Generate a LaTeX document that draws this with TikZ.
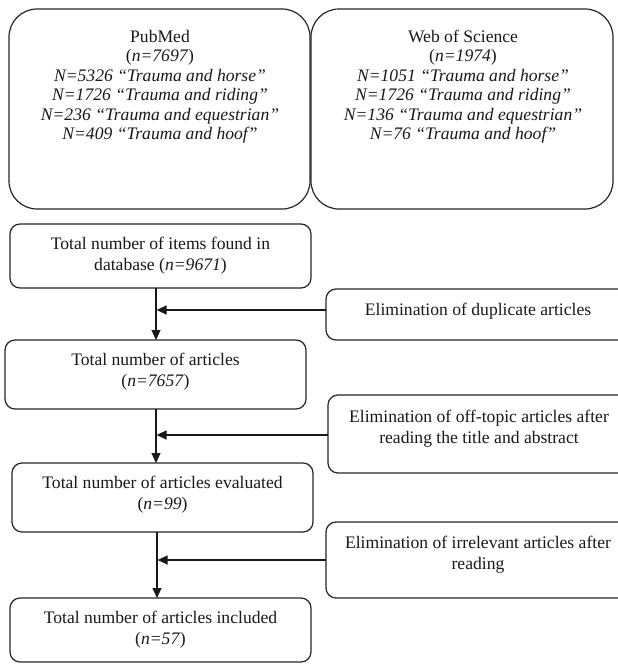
\documentclass[tikz,border=0pt]{standalone}
\usepackage{fontspec}
\setmainfont{Liberation Serif}
\usetikzlibrary{arrows.meta}
\begin{document}
\begin{tikzpicture}[x=1pt,y=-1pt,
  bigbox/.style={draw=black!85, line width=1.2pt, rounded corners=28pt, inner sep=0pt, outer sep=0pt, anchor=north west},
  smallbox/.style={draw=black!85, line width=1.2pt, rounded corners=10pt, inner sep=0pt, outer sep=0pt, anchor=north west},
  txt/.style={inner sep=0pt, align=center, anchor=north, text=black!90, font=\fontsize{17.6}{21}\selectfont},
  toptxt/.style={txt, font=\fontsize{17.6}{19.4}\selectfont},
  arr/.style={draw=black!90, line width=1.2pt, -{Triangle[length=10pt,width=9pt]}}]
\useasboundingbox (0,0) rectangle (618,664);
\clip (0,0) rectangle (618,664);
\fill[white] (0,0) rectangle (618,664);

% top database boxes
\node[bigbox, minimum width=301pt, minimum height=200pt] (P) at (9,9) {};
\node[bigbox, minimum width=302pt, minimum height=200pt] (W) at (311,9) {};
\node[toptxt] (Pt) at (160,30) {PubMed\\(\textit{n=7697})\\\textit{N=5326 “Trauma and horse”}\\\textit{N=1726 “Trauma and riding”}\\\textit{N=236 “Trauma and equestrian”}\\\textit{N=409 “Trauma and hoof”}};
\node[toptxt] (Wt) at (463,30) {Web of Science\\(\textit{n=1974})\\\textit{N=1051 “Trauma and horse”}\\\textit{N=1726 “Trauma and riding”}\\\textit{N=136 “Trauma and equestrian”}\\\textit{N=76 “Trauma and hoof”}};

% main flow boxes
\node[smallbox, minimum width=301pt, minimum height=64pt] (A) at (10,224) {};
\node[txt] (At) at (160.5,237) {Total number of items found in\\database (\textit{n=9671})};
\node[smallbox, minimum width=301pt, minimum height=69pt] (B) at (5,340) {};
\node[txt] (Bt) at (155.5,353) {Total number of articles\\(\textit{n=7657})};
\node[smallbox, minimum width=301pt, minimum height=69pt] (C) at (12,463) {};
\node[txt] (Ct) at (162.5,476) {Total number of articles evaluated\\(\textit{n=99})};
\node[smallbox, minimum width=301pt, minimum height=64pt] (G) at (10,598) {};
\node[txt] (Gt) at (160.5,611) {Total number of articles included\\(\textit{n=57})};

% elimination boxes
\node[smallbox, minimum width=304pt, minimum height=51pt] (D) at (326,289) {};
\node[txt] (Dt) at (478,303) {Elimination of duplicate articles};
\node[smallbox, minimum width=302pt, minimum height=78pt] (E) at (328,395) {};
\node[txt] (Et) at (479,410) {Elimination of off-topic articles after\\reading the title and abstract};
\node[smallbox, minimum width=304pt, minimum height=76pt] (F) at (326,522) {};
\node[txt] (Ft) at (478,536) {Elimination of irrelevant articles after\\reading};

% connectors
\coordinate (xa) at (156,0);
\coordinate (xb) at (157,0);
\coordinate (yD) at (0,310);
\coordinate (yE) at (0,435);
\coordinate (yF) at (0,560);
\draw[arr] (A.south -| xa) -- (B.north -| xa);
\draw[arr] (B.south -| xa) -- (C.north -| xa);
\draw[arr] (C.south -| xb) -- (G.north -| xb);
\draw[arr] (D.west |- yD) -- ([xshift=0.6pt]xa |- yD);
\draw[arr] (E.west |- yE) -- ([xshift=0.6pt]xa |- yE);
\draw[arr] (F.west |- yF) -- ([xshift=0.6pt]xb |- yF);
\end{tikzpicture}
\end{document}
